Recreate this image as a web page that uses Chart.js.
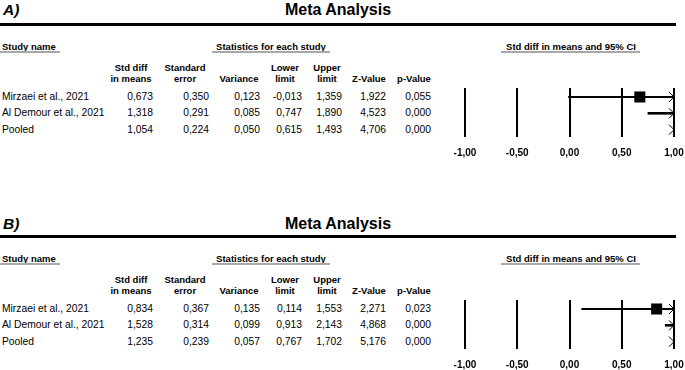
<!DOCTYPE html>
<html>
<head>
<meta charset="utf-8">
<script src="https://cdn.jsdelivr.net/npm/chart.js@4.4.1/dist/chart.umd.min.js"></script>
<style>
  html, body { margin: 0; padding: 0; background: #fff; }
  body { width: 685px; height: 370px; position: relative; overflow: hidden;
         font-family: "Liberation Sans", Arial, sans-serif; color: #000; }
  .t { position: absolute; white-space: nowrap; line-height: 1; }
  .rule { position: absolute; background: #000; }
  .uline { position: absolute; background: #a8a8a8; }
  canvas { position: absolute; }
</style>
</head>
<body>
<script>
const panelLabels = ["A)", "B)"];
const title = "Meta Analysis";
const groupHeads = ["Study name", "Statistics for each study", "Std diff in means and 95% CI"];
const columnHeads = [
  ["Std diff", "in means"], ["Standard", "error"], ["", "Variance"],
  ["Lower", "limit"], ["Upper", "limit"], ["", "Z-Value"], ["", "p-Value"]
];
const studyNames = ["Mirzaei et al., 2021", "Al Demour et al., 2021", "Pooled"];

// panel A
const stdDiffA = [0.673, 1.318, 1.054];
const stdErrA = [0.350, 0.291, 0.224];
const varianceA = [0.123, 0.085, 0.050];
const lowerA = [-0.013, 0.747, 0.615];
const upperA = [1.359, 1.890, 1.493];
const zValueA = [1.922, 4.523, 4.706];
const pValueA = [0.055, 0.000, 0.000];

// panel B
const stdDiffB = [0.834, 1.528, 1.235];
const stdErrB = [0.367, 0.314, 0.239];
const varianceB = [0.135, 0.099, 0.057];
const lowerB = [0.114, 0.913, 0.767];
const upperB = [1.553, 2.143, 1.702];
const zValueB = [2.271, 4.868, 5.176];
const pValueB = [0.023, 0.000, 0.000];

const xTicks = [-1, -0.5, 0, 0.5, 1];

const FONT = '"Liberation Sans", Arial, sans-serif';
const fmt3 = (v) => v.toFixed(3).replace(".", ",");
const fmt2 = (v) => v.toFixed(2).replace(".", ",");

// place a text by its baseline
function put(text, x, base, size, align, style) {
  const d = document.createElement("div");
  d.className = "t";
  d.textContent = text;
  d.style.fontSize = size + "px";
  d.style.top = (base - 0.8465 * size) + "px";
  if (align === "right") d.style.right = (685 - x) + "px";
  else {
    d.style.left = x + "px";
    if (align === "center") d.style.transform = "translateX(-50%)";
  }
  if (style) Object.assign(d.style, style);
  document.body.appendChild(d);
}

function box(cls, left, top, width, height) {
  const d = document.createElement("div");
  d.className = cls;
  Object.assign(d.style, { left: left + "px", top: top + "px", width: width + "px", height: height + "px" });
  document.body.appendChild(d);
}

// draws ">" where the interval runs past the axis
const chevrons = {
  id: "chevrons",
  afterDatasetsDraw(chart, args, opts) {
    const xs = chart.scales.x, ys = chart.scales.y, ctx = chart.ctx;
    ctx.save();
    ctx.strokeStyle = "#000";
    ctx.lineWidth = 1;
    opts.upper.forEach((u, i) => {
      if (u <= xs.max) return;
      const px = xs.getPixelForValue(xs.max);
      const py = ys.getPixelForValue(i + 1);
      ctx.beginPath();
      ctx.moveTo(px - 5, py - 5);
      ctx.lineTo(px, py);
      ctx.lineTo(px - 5, py + 5);
      ctx.stroke();
    });
    ctx.restore();
  },
};

const valueRight = [153, 209, 260, 302, 342, 386, 431];
const headCenter = [131, 185, 239, 285, 327, 369, 414];

const panels = [
  { off: 0, titleOff: 0, label: panelLabels[0], cols: [stdDiffA, stdErrA, varianceA, lowerA, upperA, zValueA, pValueA], mean: stdDiffA, lower: lowerA, upper: upperA },
  { off: 212, titleOff: 214, label: panelLabels[1], cols: [stdDiffB, stdErrB, varianceB, lowerB, upperB, zValueB, pValueB], mean: stdDiffB, lower: lowerB, upper: upperB },
];

panels.forEach((p) => {
  const o = p.off;
  put(p.label, 3, 15 + p.titleOff, 15.5, "left", { fontWeight: "bold", fontStyle: "italic" });
  put(title, 338, 16 + p.titleOff, 16, "center", { fontWeight: "bold" });
  box("rule", 0, 23 + o, 676, 3);

  put(groupHeads[0], 2, 50 + o, 9.5, "left", { fontWeight: "bold" });
  put(groupHeads[1], 271, 50 + o, 9.5, "center", { fontWeight: "bold" });
  put(groupHeads[2], 571, 50 + o, 9.5, "center", { fontWeight: "bold" });
  box("uline", 0, 51 + o, 60, 2);
  box("uline", 212, 51 + o, 118, 2);
  box("uline", 501, 51 + o, 139, 2);

  columnHeads.forEach((h, c) => {
    if (h[0]) put(h[0], headCenter[c], 71 + o, 9.5, "center", { fontWeight: "bold" });
    put(h[1], headCenter[c], 82 + o, 9.5, "center", { fontWeight: "bold" });
  });

  const rowBase = [101, 117, 133.5];
  studyNames.forEach((name, i) => {
    put(name, 2, rowBase[i] + o, 10.3, "left");
    p.cols.forEach((col, c) => put(fmt3(col[i]), valueRight[c], rowBase[i] + o, 10.3, "right"));
  });

  // forest plot
  const cv = document.createElement("canvas");
  cv.width = 245;
  cv.height = 85;
  Object.assign(cv.style, { left: "440px", top: (80 + o) + "px", width: "245px", height: "85px" });
  document.body.appendChild(cv);

  const datasets = [];
  studyNames.forEach((name, i) => {
    if (name === "Pooled") return; // pooled diamond lies off the axis
    datasets.push({
      data: [{ x: p.lower[i], y: i + 1 }, { x: Math.min(p.upper[i], 1), y: i + 1 }],
      showLine: true, borderColor: "#000", borderWidth: i === 1 ? 2.6 : 2, pointRadius: 0,
    });
    datasets.push({
      data: [{ x: p.mean[i], y: i + 1 }],
      pointStyle: "rect", pointRadius: 7.8, backgroundColor: "#000", borderWidth: 0,
    });
  });

  new Chart(cv, {
    type: "scatter",
    data: { datasets },
    options: {
      responsive: false,
      animation: false,
      layout: { padding: { top: 8, bottom: 4, left: 25, right: 11 } },
      plugins: { legend: { display: false }, tooltip: { enabled: false }, chevrons: { upper: p.upper } },
      scales: {
        x: {
          type: "linear", min: -1, max: 1,
          afterBuildTicks: (s) => { s.ticks = xTicks.map((v) => ({ value: v })); },
          afterFit: (s) => { s.height = 24; s.paddingLeft = 0; s.paddingRight = 0; },
          grid: { color: "#000", lineWidth: 2, drawTicks: false },
          border: { display: false },
          ticks: { padding: 10, color: "#000", font: { family: FONT, size: 10, weight: "bold" }, callback: (v) => fmt2(v) },
        },
        y: { type: "linear", display: false, reverse: true, min: 0.45, max: 3.45 },
      },
    },
    plugins: [chevrons],
  });
});
</script>
</body>
</html>
